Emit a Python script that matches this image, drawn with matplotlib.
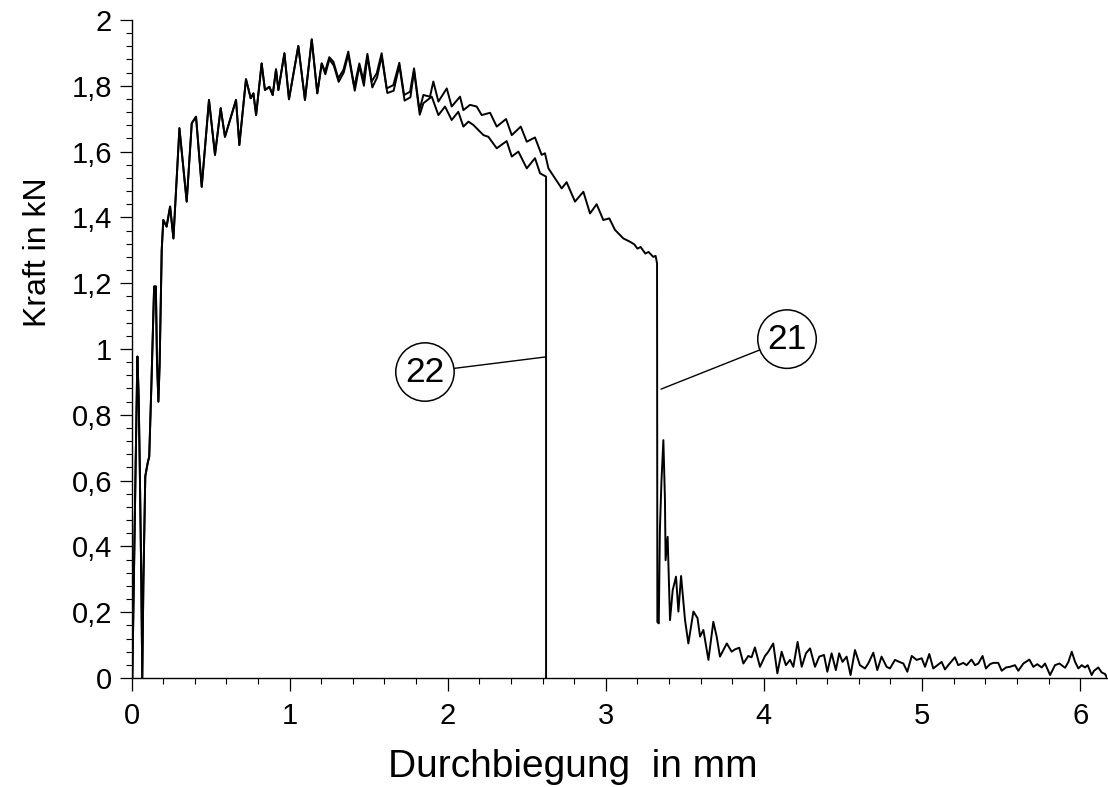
import matplotlib.pyplot as plt
from matplotlib.ticker import MultipleLocator, FuncFormatter

plt.rcParams['font.family'] = ['Liberation Sans', 'DejaVu Sans']

# Anstieg, beide Proben fast deckungsgleich (Durchbiegung mm / Kraft kN)
x_rise = [0.005, 0.015, 0.025, 0.037, 0.045, 0.052, 0.062, 0.068, 0.075, 0.087,
          0.102, 0.112, 0.126, 0.143, 0.154, 0.161, 0.170, 0.178, 0.191, 0.201,
          0.222, 0.244, 0.265, 0.303, 0.349, 0.381, 0.408, 0.444, 0.490, 0.528,
          0.564, 0.591, 0.623, 0.661, 0.682, 0.724, 0.754, 0.771, 0.788, 0.823,
          0.844, 0.872, 0.893, 0.914, 0.929, 0.967, 0.996, 1.055, 1.097, 1.140,
          1.175, 1.203]
y_rise = [0.0, 0.30, 0.62, 0.977, 0.86, 0.65, 0.29, 0.0, 0.288, 0.613,
          0.653, 0.673, 0.896, 1.19, 1.19, 0.966, 0.840, 0.956, 1.301, 1.392,
          1.372, 1.433, 1.336, 1.671, 1.448, 1.686, 1.706, 1.493, 1.757, 1.590,
          1.732, 1.645, 1.696, 1.757, 1.620, 1.820, 1.762, 1.777, 1.711, 1.868,
          1.787, 1.797, 1.772, 1.850, 1.787, 1.899, 1.759, 1.921, 1.757, 1.941,
          1.777, 1.868]

# Probe 21
x21 = [1.224, 1.251, 1.277, 1.308, 1.340, 1.371, 1.409, 1.441, 1.466, 1.492,
       1.519, 1.551, 1.582, 1.614, 1.656, 1.694, 1.724, 1.762, 1.787, 1.821,
       1.846, 1.888, 1.909, 1.941, 1.994, 2.025, 2.078, 2.099, 2.141, 2.183,
       2.215, 2.268, 2.310, 2.369, 2.405, 2.462, 2.500, 2.552, 2.594, 2.615,
       2.637, 2.721, 2.752, 2.805, 2.858, 2.900, 2.942, 2.984, 3.022, 3.058,
       3.111, 3.153, 3.180, 3.200, 3.220, 3.250, 3.270, 3.300, 3.315, 3.324,
       3.326, 3.335, 3.342, 3.352, 3.364, 3.374, 3.378, 3.391, 3.406, 3.423,
       3.444, 3.459, 3.476, 3.501, 3.522, 3.554, 3.580, 3.596, 3.617, 3.649,
       3.680, 3.701, 3.722, 3.765, 3.796, 3.817, 3.844, 3.870, 3.901, 3.922,
       3.943, 3.975, 4.007, 4.028, 4.059, 4.085, 4.112, 4.139, 4.165, 4.186,
       4.213, 4.239, 4.266, 4.292, 4.323, 4.350, 4.380, 4.401, 4.428, 4.455,
       4.476, 4.497, 4.523, 4.548, 4.576, 4.607, 4.639, 4.660, 4.692, 4.717,
       4.744, 4.776, 4.797, 4.829, 4.856, 4.882, 4.907, 4.935, 4.966, 4.998,
       5.019, 5.046, 5.071, 5.097, 5.124, 5.145, 5.166, 5.208, 5.229, 5.261,
       5.282, 5.313, 5.335, 5.356, 5.383, 5.404, 5.430, 5.451, 5.482, 5.504,
       5.531, 5.556, 5.588, 5.609, 5.641, 5.679, 5.704, 5.729, 5.757, 5.778,
       5.810, 5.841, 5.869, 5.905, 5.926, 5.947, 5.968, 5.989, 6.010, 6.031,
       6.048, 6.073, 6.088, 6.115, 6.136, 6.158, 6.170]
y21 = [1.843, 1.887, 1.873, 1.823, 1.848, 1.904, 1.797, 1.868, 1.818, 1.897,
       1.813, 1.838, 1.899, 1.792, 1.802, 1.870, 1.772, 1.782, 1.853, 1.726,
       1.772, 1.767, 1.813, 1.752, 1.792, 1.737, 1.767, 1.726, 1.742, 1.737,
       1.711, 1.718, 1.676, 1.699, 1.650, 1.676, 1.630, 1.643, 1.590, 1.595,
       1.549, 1.488, 1.507, 1.448, 1.478, 1.412, 1.440, 1.392, 1.397, 1.362,
       1.336, 1.326, 1.318, 1.305, 1.310, 1.290, 1.295, 1.280, 1.283, 1.260,
       0.170, 0.166, 0.450, 0.600, 0.723, 0.541, 0.358, 0.429, 0.176, 0.267,
       0.308, 0.202, 0.310, 0.176, 0.105, 0.202, 0.182, 0.126, 0.146, 0.055,
       0.171, 0.126, 0.065, 0.105, 0.080, 0.087, 0.092, 0.044, 0.067, 0.063,
       0.093, 0.034, 0.067, 0.080, 0.105, 0.014, 0.080, 0.039, 0.055, 0.034,
       0.110, 0.034, 0.075, 0.090, 0.034, 0.065, 0.070, 0.019, 0.075, 0.024,
       0.075, 0.049, 0.065, 0.009, 0.085, 0.039, 0.029, 0.044, 0.077, 0.024,
       0.065, 0.034, 0.029, 0.055, 0.049, 0.044, 0.019, 0.067, 0.055, 0.060,
       0.034, 0.073, 0.029, 0.039, 0.049, 0.026, 0.039, 0.063, 0.039, 0.046,
       0.039, 0.056, 0.039, 0.044, 0.067, 0.029, 0.042, 0.046, 0.046, 0.022,
       0.032, 0.034, 0.039, 0.022, 0.044, 0.056, 0.034, 0.042, 0.032, 0.044,
       0.009, 0.039, 0.044, 0.031, 0.049, 0.080, 0.049, 0.029, 0.039, 0.032,
       0.039, 0.009, 0.022, 0.032, 0.017, 0.012, 0.000]

# Probe 22
x22 = [1.226, 1.251, 1.279, 1.310, 1.342, 1.371, 1.412, 1.441, 1.470, 1.492,
       1.523, 1.553, 1.582, 1.618, 1.658, 1.694, 1.727, 1.764, 1.787, 1.823,
       1.846, 1.899, 1.941, 1.983, 2.025, 2.067, 2.099, 2.131, 2.162, 2.226,
       2.257, 2.310, 2.373, 2.405, 2.447, 2.500, 2.552, 2.584, 2.622, 2.622]
y22 = [1.835, 1.880, 1.862, 1.812, 1.840, 1.895, 1.785, 1.860, 1.800, 1.890,
       1.795, 1.825, 1.890, 1.778, 1.785, 1.862, 1.755, 1.765, 1.845, 1.712,
       1.747, 1.767, 1.711, 1.737, 1.696, 1.721, 1.676, 1.691, 1.681, 1.650,
       1.645, 1.610, 1.632, 1.585, 1.600, 1.549, 1.580, 1.534, 1.524, 0.0]

fig = plt.figure(figsize=(11.08, 7.87), dpi=100)
ax = fig.add_axes([0.1187, 0.1385, 0.8804, 0.8361])

ax.plot(x_rise + x21, y_rise + y21, color='black', lw=1.4)
ax.plot(x_rise + x22, y_rise + y22, color='black', lw=1.4)

# Kennzeichnung der Proben
ax.annotate('22', xy=(2.622, 0.976), xytext=(1.856, 0.930), fontsize=25.5,
            ha='center', va='center',
            bbox=dict(boxstyle='circle,pad=0.27', fc='white', ec='black', lw=1.1),
            arrowprops=dict(arrowstyle='-', color='black', lw=1.0, shrinkA=0, shrinkB=0))
ax.annotate('21', xy=(3.349, 0.878), xytext=(4.146, 1.030), fontsize=25.5,
            ha='center', va='center',
            bbox=dict(boxstyle='circle,pad=0.27', fc='white', ec='black', lw=1.1),
            arrowprops=dict(arrowstyle='-', color='black', lw=1.0, shrinkA=0, shrinkB=0))

ax.set_xlim(0, 6.17)
ax.set_ylim(0, 2)
ax.spines['top'].set_visible(False)
ax.spines['right'].set_visible(False)
ax.spines['left'].set_linewidth(1.0)
ax.spines['bottom'].set_linewidth(1.0)

ax.xaxis.set_major_locator(MultipleLocator(1))
ax.xaxis.set_minor_locator(MultipleLocator(0.2))
ax.yaxis.set_major_locator(MultipleLocator(0.2))
ax.yaxis.set_minor_locator(MultipleLocator(0.04))
komma = FuncFormatter(lambda v, _: ('%g' % round(v, 2)).replace('.', ','))
ax.xaxis.set_major_formatter(komma)
ax.yaxis.set_major_formatter(komma)
ax.tick_params(which='major', direction='out', length=9, width=0.9, labelsize=21)
ax.tick_params(which='minor', direction='out', length=4.5, width=0.8)
ax.tick_params(axis='x', which='major', pad=8)
ax.tick_params(axis='y', which='major', pad=5)

fig.text(573 / 1108, 10 / 787, 'Durchbiegung  in mm', fontsize=28,
         ha='center', va='baseline')
fig.text(38 / 1108, 1 - 252 / 787, 'Kraft in kN', fontsize=23,
         rotation=90, ha='center', va='center')

fig.savefig('out.png', dpi=100)
